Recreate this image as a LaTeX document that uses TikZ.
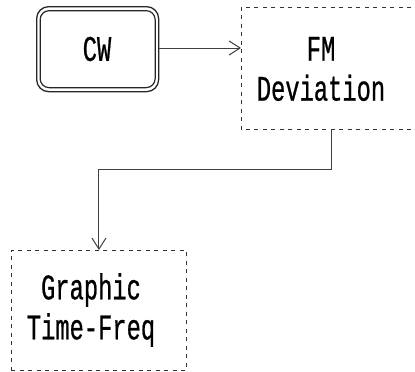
\documentclass[tikz,border=0pt]{standalone}
\usepackage{fontspec}
\usetikzlibrary{arrows.meta}
\newfontfamily\boxfont[FakeStretch=0.66,FakeBold=0.6]{Liberation Mono}
\begin{document}
\begin{tikzpicture}[x=1pt,y=1pt,
  dashline/.style={draw=black!80, line width=0.9pt, dash pattern=on 4pt off 4.5pt},
  dashbox/.style={dashline, inner sep=0pt},
  lbl/.style={font=\boxfont\fontsize{36}{40}\selectfont, align=center, inner sep=0pt, text=black},
  conn/.style={draw=black!75, line width=1pt},
  tip/.style={-{Straight Barb[length=11pt,width=14pt,line width=1pt]}}
]
\useasboundingbox (0,0) rectangle (415,-372);
\fill[white] (0,0) rectangle (415,-372);
% CW double rounded box
\node[draw=black!85, line width=1.3pt, rounded corners=12pt, minimum width=122pt, minimum height=85pt, anchor=north west, inner sep=0pt] (cwo) at (36,-6) {};
\node[draw=black!85, line width=1.2pt, rounded corners=9pt, minimum width=115pt, minimum height=77pt, anchor=center, inner sep=0pt] (cwi) at (cwo.center) {};
\node[lbl] (cw) at (97,-49) {CW};
% FM Deviation box: its right side lies outside the picture
\node[inner sep=0pt, minimum width=170pt, minimum height=122pt, anchor=north west] (fm) at (241,-7) {};
\draw[dashline] (fm.north east) -- (fm.north west) -- (fm.south west) -- (fm.south east);
\node[lbl] (fmt) at (321,-69) {FM\\Deviation};
% Graphic Time-Freq box
\node[dashbox, minimum width=175pt, minimum height=120pt, anchor=north west] (gt) at (11,-250) {};
\node[lbl] (gtt) at (91,-310) {Graphic\\Time-Freq};
% connectors
\draw[conn,tip] (cwo.east |- 0,-48) -- (fm.west |- 0,-48);
\draw[conn,tip] ([xshift=90pt]fm.south west) |- ([yshift=81pt]gt.north) -| (gt.north);
\end{tikzpicture}
\end{document}
